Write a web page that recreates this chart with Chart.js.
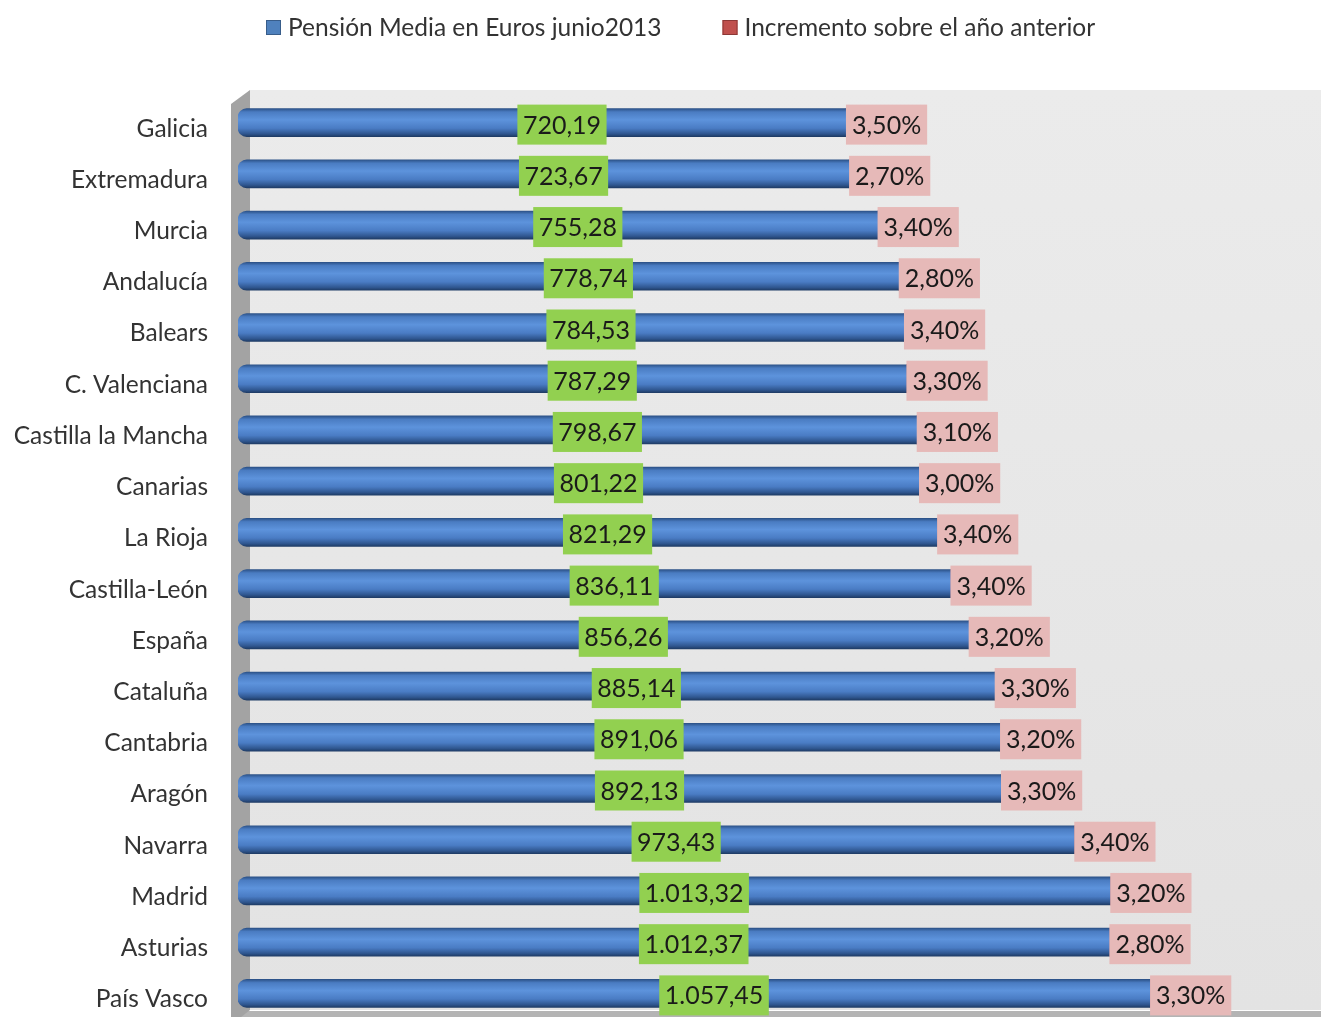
<!DOCTYPE html>
<html>
<head>
<meta charset="utf-8">
<script src="https://cdn.jsdelivr.net/npm/chart.js@4.4.1/dist/chart.umd.min.js"></script>
<style>
  html, body { margin: 0; padding: 0; background: #ffffff; overflow: hidden; }
  #grafica { display: block; }
</style>
</head>
<body>
<canvas id="grafica" width="1321" height="1022"></canvas>
<script>
// --- Datos ---
const comunidades = ["Galicia", "Extremadura", "Murcia", "Andalucía", "Balears", "C. Valenciana",
  "Castilla la Mancha", "Canarias", "La Rioja", "Castilla-León", "España", "Cataluña",
  "Cantabria", "Aragón", "Navarra", "Madrid", "Asturias", "País Vasco"];
const pensionMedia = [720.19, 723.67, 755.28, 778.74, 784.53, 787.29, 798.67, 801.22, 821.29,
  836.11, 856.26, 885.14, 891.06, 892.13, 973.43, 1013.32, 1012.37, 1057.45];
const incremento = [3.5, 2.7, 3.4, 2.8, 3.4, 3.3, 3.1, 3.0, 3.4, 3.4, 3.2, 3.3, 3.2, 3.3, 3.4, 3.2, 2.8, 3.3];
const serieNombres = ["Pensión Media en Euros junio2013", "Incremento sobre el año anterior"];

const FUENTE = "Lato, 'Noto Sans', sans-serif";
const GROSOR = 28;
const EJE_MIN = 46;

// formato español: 1.057,45
function formatoEuro(v) {
  const partes = v.toFixed(2).split(".");
  const entero = partes[0].replace(/\B(?=(\d{3})+(?!\d))/g, ".");
  return entero + "," + partes[1];
}
function formatoPct(v) {
  return v.toFixed(2).replace(".", ",") + "%";
}

// degradado tipo cilindro
function colorCilindro(ctx) {
  const chart = ctx.chart;
  if (!chart.chartArea) return "#4f81bd";
  const y = chart.scales.y.getPixelForValue(ctx.dataIndex);
  const g = chart.ctx.createLinearGradient(0, y - GROSOR / 2, 0, y + GROSOR / 2);
  g.addColorStop(0, "#2c5288");
  g.addColorStop(0.12, "#4a7cc2");
  g.addColorStop(0.4, "#5d93dc");
  g.addColorStop(0.7, "#4a7cc4");
  g.addColorStop(0.9, "#2f568f");
  g.addColorStop(1, "#1f3c66");
  return g;
}

// --- Fondo: pared y suelo 3D ---
const pluginFondo = {
  id: "fondo",
  beforeDraw(chart) {
    const { ctx, chartArea } = chart;
    const izq = chartArea.left;
    ctx.save();
    const g = ctx.createLinearGradient(0, 90, 0, 1010);
    g.addColorStop(0, "#ebebeb");
    g.addColorStop(1, "#e3e3e3");
    ctx.fillStyle = g;
    ctx.fillRect(izq + 12, 90, chartArea.right - izq - 12, 1010 - 90);
    // suelo
    ctx.fillStyle = "#b4b4b4";
    ctx.fillRect(izq - 6, 1011, chartArea.right - izq + 6, 20);
    // pared izquierda
    ctx.fillStyle = "#a3a3a3";
    ctx.beginPath();
    ctx.moveTo(izq - 7, 104);
    ctx.lineTo(izq + 12, 90);
    ctx.lineTo(izq + 12, 1010);
    ctx.lineTo(izq - 7, 1025);
    ctx.closePath();
    ctx.fill();
    ctx.restore();
  }
};

// --- Leyenda superior ---
const pluginLeyenda = {
  id: "leyendaArriba",
  afterDraw(chart) {
    const ctx = chart.ctx;
    const colores = ["#4f81bd", "#c0504d"];
    const bordes = ["#385d8a", "#8c3836"];
    ctx.save();
    ctx.font = "24.5px " + FUENTE;
    ctx.textBaseline = "middle";
    let x = 266;
    serieNombres.forEach((nombre, i) => {
      ctx.fillStyle = colores[i];
      ctx.fillRect(x, 20, 15, 15);
      ctx.strokeStyle = bordes[i];
      ctx.lineWidth = 1;
      ctx.strokeRect(x + 0.5, 20.5, 14, 14);
      ctx.fillStyle = "#333333";
      ctx.fillText(nombre, x + 22, 28);
      x += 22 + ctx.measureText(nombre).width + 61;
    });
    ctx.restore();
  }
};

// --- Etiquetas de datos (cajas verdes y rosas) ---
const pluginEtiquetas = {
  id: "etiquetas",
  afterDatasetsDraw(chart) {
    const ctx = chart.ctx;
    ctx.save();
    ctx.font = "25px " + FUENTE;
    ctx.textBaseline = "middle";
    ctx.textAlign = "center";
    const barras = chart.getDatasetMeta(0).data;
    const rojas = chart.getDatasetMeta(1).data;
    barras.forEach((bar, i) => {
      const texto = formatoEuro(pensionMedia[i]);
      const w = ctx.measureText(texto).width + 11;
      const cx = (bar.base + bar.x) / 2 + 20;
      const cy = bar.y + 2;
      ctx.fillStyle = "#92d050";
      ctx.fillRect(cx - w / 2, cy - 20, w, 40);
      ctx.fillStyle = "#1a1a1a";
      ctx.fillText(texto, cx, cy + 1);
    });
    ctx.textAlign = "left";
    rojas.forEach((bar, i) => {
      const texto = formatoPct(incremento[i]);
      const w = ctx.measureText(texto).width + 12;
      const x0 = bar.base;
      const cy = bar.y + 2;
      ctx.fillStyle = "#e6b9b8";
      ctx.fillRect(x0, cy - 20, w, 40);
      ctx.fillStyle = "#1a1a1a";
      ctx.fillText(texto, x0 + 6, cy + 1);
    });
    ctx.restore();
  }
};

const ctxG = document.getElementById("grafica").getContext("2d");
new Chart(ctxG, {
  type: "bar",
  data: {
    labels: comunidades,
    datasets: [
      {
        label: serieNombres[0],
        data: pensionMedia,
        base: EJE_MIN,
        backgroundColor: colorCilindro,
        borderSkipped: false,
        borderRadius: { topLeft: 9, bottomLeft: 9, topRight: 0, bottomRight: 0 },
        barThickness: GROSOR
      },
      {
        label: serieNombres[1],
        data: incremento,
        backgroundColor: "#c0504d",
        barThickness: GROSOR
      }
    ]
  },
  options: {
    indexAxis: "y",
    responsive: false,
    animation: false,
    layout: { padding: { top: 97, right: 0, bottom: 3, left: 0 } },
    plugins: {
      legend: { display: false },
      tooltip: { enabled: false }
    },
    scales: {
      x: {
        stacked: true,
        display: false,
        min: EJE_MIN,
        max: 1247
      },
      y: {
        stacked: true,
        grid: { display: false },
        border: { display: false },
        afterFit: (scale) => {
          scale.width = 238;
          scale.paddingTop = 0;
          scale.paddingBottom = 0;
        },
        ticks: {
          color: "#333333",
          padding: 22,
          labelOffset: 6,
          font: { family: FUENTE, size: 24.5 }
        }
      }
    }
  },
  plugins: [pluginFondo, pluginLeyenda, pluginEtiquetas]
});
</script>
</body>
</html>
